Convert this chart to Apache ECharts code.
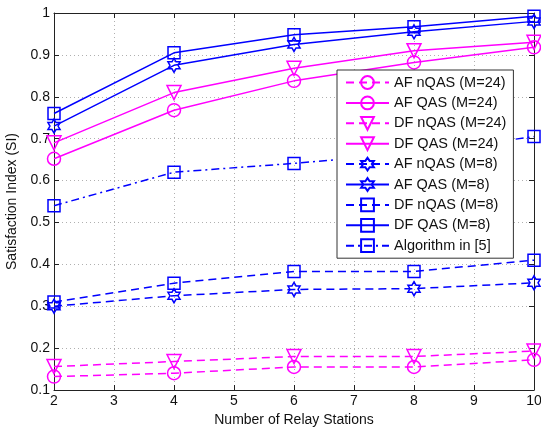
<!DOCTYPE html>
<html>
<head>
<meta charset="utf-8">
<script src="https://cdn.jsdelivr.net/npm/echarts@6/dist/echarts.min.js"></script>
<style>
html,body{margin:0;padding:0;background:#fff;}
#c{width:541px;height:428px;}
</style>
</head>
<body>
<div id="c"></div>
<script>
var relays = [2, 4, 6, 8, 10];
var afNqas24 = [0.132, 0.140, 0.155, 0.155, 0.172];
var afQas24  = [0.652, 0.768, 0.838, 0.882, 0.918];
var dfNqas24 = [0.156, 0.168, 0.180, 0.180, 0.193];
var dfQas24  = [0.690, 0.810, 0.868, 0.910, 0.930];
var afNqas8  = [0.300, 0.325, 0.340, 0.342, 0.356];
var afQas8   = [0.730, 0.875, 0.925, 0.955, 0.980];
var dfNqas8  = [0.310, 0.355, 0.383, 0.383, 0.410];
var dfQas8   = [0.760, 0.905, 0.948, 0.967, 0.992];
var algo5    = [0.540, 0.620, 0.641, 0.665, 0.705];
var seriesNames = ['AF nQAS (M=24)','AF QAS (M=24)','DF nQAS (M=24)','DF QAS (M=24)',
                   'AF nQAS (M=8)','AF QAS (M=8)','DF nQAS (M=8)','DF QAS (M=8)','Algorithm in [5]'];

var MAG = '#ff00ff', BLU = '#0000ff';
var HEX = 'path://M0,-10L2.887,-5L8.66,-5L5.774,0L8.66,5L2.887,5L0,10L-2.887,5L-8.66,5L-5.774,0L-8.66,-5L-2.887,-5Z';
var DASH = [8, 5], DASHDOT = [8, 4, 2, 4];

function pts(vals){ return relays.map(function(x,i){ return [x, vals[i]]; }); }
function mk(name, vals, color, dash, symbol, size, rot){
  return {
    name: name, type: 'line', data: pts(vals),
    xAxisIndex: 0, yAxisIndex: 0,
    symbol: symbol, symbolSize: size, symbolRotate: rot || 0, symbolKeepAspect: true,
    showAllSymbol: true,
    lineStyle: { color: color, width: 1.5, type: dash },
    itemStyle: { color: 'rgba(0,0,0,0)', borderColor: color, borderWidth: 1.5 },
    emphasis: { disabled: true },
    animation: false
  };
}

var series = [
  mk(seriesNames[0], afNqas24, MAG, DASH, 'circle', 13),
  mk(seriesNames[1], afQas24, MAG, 'solid', 'circle', 13),
  mk(seriesNames[2], dfNqas24, MAG, DASH, 'triangle', 14, 180),
  mk(seriesNames[3], dfQas24, MAG, 'solid', 'triangle', 14, 180),
  mk(seriesNames[4], afNqas8, BLU, DASH, HEX, 14),
  mk(seriesNames[5], afQas8, BLU, 'solid', HEX, 14),
  mk(seriesNames[6], dfNqas8, BLU, DASH, 'rect', 12),
  mk(seriesNames[7], dfQas8, BLU, 'solid', 'rect', 12),
  mk(seriesNames[8], algo5, BLU, DASHDOT, 'rect', 12)
];

var FONT = 'Liberation Sans, Arial, sans-serif';
var axisCol = '#222';
var chart = echarts.init(document.getElementById('c'), null, {renderer: 'canvas'});
chart.setOption({
  animation: false,
  backgroundColor: '#fff',
  textStyle: { fontFamily: FONT },
  grid: { left: 54, right: 7, top: 13, bottom: 38, containLabel: false, outerBoundsMode: 'none' },
  legend: {
    orient: 'vertical', left: 337, top: 70,
    data: seriesNames,
    itemWidth: 43, itemHeight: 16, itemGap: 5.4,
    padding: [5, 7, 5, 8],
    backgroundColor: '#fff', borderColor: '#333', borderWidth: 1, borderRadius: 0,
    textStyle: { fontFamily: FONT, fontSize: 14.5, color: '#111' },
    selectedMode: false
  },
  xAxis: [{
    type: 'value', min: 2, max: 10, interval: 1, position: 'bottom',
    name: 'Number of Relay Stations', nameLocation: 'middle', nameGap: 21,
    nameTextStyle: { fontFamily: FONT, fontSize: 14, color: '#111' },
    axisLine: { show: true, lineStyle: { color: axisCol, width: 1 } },
    axisTick: { show: true, inside: true, length: 5, lineStyle: { color: axisCol } },
    axisLabel: { fontFamily: FONT, fontSize: 14, color: '#111', margin: 4 },
    splitLine: { show: true, lineStyle: { color: '#b0b0b0', type: [1, 3], width: 1 } }
  }, {
    type: 'value', min: 2, max: 10, interval: 1, position: 'top',
    axisLine: { show: true, lineStyle: { color: axisCol, width: 1 } },
    axisTick: { show: true, inside: true, length: 5, lineStyle: { color: axisCol } },
    axisLabel: { show: false }, splitLine: { show: false }
  }],
  yAxis: [{
    type: 'value', min: 0.1, max: 1, interval: 0.1, position: 'left',
    name: 'Satisfaction Index (SI)', nameLocation: 'middle', nameGap: 33,
    nameTextStyle: { fontFamily: FONT, fontSize: 14, color: '#111' },
    axisLine: { show: true, lineStyle: { color: axisCol, width: 1 } },
    axisTick: { show: true, inside: true, length: 5, lineStyle: { color: axisCol } },
    axisLabel: { fontFamily: FONT, fontSize: 14, color: '#111', margin: 4,
      formatter: function(v){ return String(Math.round(v*10)/10); } },
    splitLine: { show: true, lineStyle: { color: '#b0b0b0', type: [1, 3], width: 1 } }
  }, {
    type: 'value', min: 0.1, max: 1, interval: 0.1, position: 'right',
    axisLine: { show: true, lineStyle: { color: axisCol, width: 1 } },
    axisTick: { show: true, inside: true, length: 5, lineStyle: { color: axisCol } },
    axisLabel: { show: false }, splitLine: { show: false }
  }],
  series: series
});
</script>
</body>
</html>
